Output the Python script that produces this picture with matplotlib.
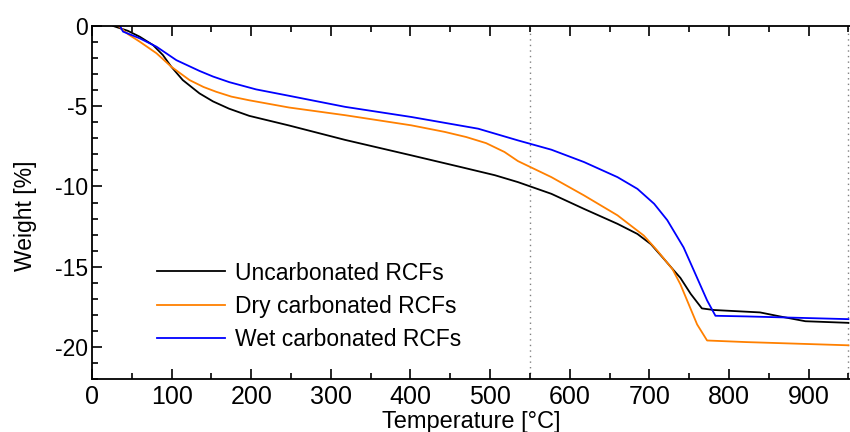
import numpy as np
import matplotlib
matplotlib.use("Agg")
import matplotlib.pyplot as plt

plt.rcParams['font.family'] = ['Liberation Sans', 'DejaVu Sans']
plt.rcParams['axes.unicode_minus'] = False

# values (temperature in degC, weight change in %)
temp_unc = [26.7, 45, 60, 76.7, 89, 99.6, 114, 135, 152, 172, 197.5, 247.5, 318, 401, 464, 506, 535,
            577, 618, 660, 685, 702, 718, 731, 739, 752, 766, 781, 839, 864, 896, 950]
weight_unc = [0, -0.3, -0.67, -1.19, -1.81, -2.54, -3.37, -4.2, -4.7, -5.15, -5.6, -6.2, -7.1, -8.06, -8.8, -9.3, -9.73,
              -10.46, -11.4, -12.33, -12.96, -13.6, -14.5, -15.25, -15.7, -16.7, -17.6, -17.7, -17.85, -18.1, -18.4, -18.5]

temp_dry = [33, 45, 60, 81, 99.6, 122.5, 140, 156, 175, 197.5, 247.5, 318, 401, 443, 470, 495, 518, 535, 577, 618,
            660, 693, 710, 729, 739, 760, 772.5, 822, 950]
weight_dry = [0, -0.5, -0.98, -1.7, -2.54, -3.37, -3.8, -4.1, -4.4, -4.63, -5.08, -5.56, -6.19, -6.6, -6.92, -7.3, -7.85,
              -8.42, -9.42, -10.56, -11.8, -13.06, -14.0, -15.15, -16.1, -18.6, -19.6, -19.7, -19.9]

temp_wet = [35, 39, 60, 81, 106, 135, 152, 172.5, 206, 247.5, 318, 401, 485, 535, 577, 618, 660, 685,
            706, 722.5, 743, 756, 772.5, 783, 822, 950]
weight_wet = [0, -0.35, -0.77, -1.29, -2.13, -2.8, -3.15, -3.5, -3.95, -4.35, -5.04, -5.67, -6.4, -7.13, -7.71, -8.48,
              -9.42, -10.15, -11.08, -12.1, -13.8, -15.25, -17.1, -18.06, -18.1, -18.27]

labels = ["Uncarbonated RCFs", "Dry carbonated RCFs", "Wet carbonated RCFs"]
colors = ["black", "#ff8000", "#0000ff"]
marks = [550, 950]

fig = plt.figure(figsize=(8.5, 4.32), dpi=100)
ax = fig.add_axes([92 / 850, 1 - 379 / 432, 1 - 92 / 850, (379 - 26) / 432])

for x in marks:
    ax.axvline(x, color="gray", ls=(0, (1, 3)), lw=1.0, zorder=1)

ax.plot(temp_unc, weight_unc, color=colors[0], lw=1.3, label=labels[0])
ax.plot(temp_dry, weight_dry, color=colors[1], lw=1.3, label=labels[1])
ax.plot(temp_wet, weight_wet, color=colors[2], lw=1.3, label=labels[2])

ax.set_xlim(0, 952)
ax.set_ylim(-22, 0)
ax.set_xticks(np.arange(0, 901, 100))
ax.set_xticks(np.arange(50, 951, 50), minor=True)
ax.set_yticks([-20, -15, -10, -5, 0])
ax.set_yticks(np.arange(-22, 0, 1), minor=True)
ax.tick_params(which="both", direction="in", top=True, right=False, width=1.2)
ax.tick_params(which="major", length=7)
ax.tick_params(which="minor", length=4)
ax.tick_params(axis="x", labelsize=18, pad=4)
ax.tick_params(axis="y", labelsize=16.5, pad=3)
ax.spines["right"].set_visible(False)
for s in ["left", "top", "bottom"]:
    ax.spines[s].set_linewidth(1.3)

ax.set_xlabel("Temperature [°C]", fontsize=17, labelpad=2)
ax.set_ylabel("Weight [%]", fontsize=16.5)
ax.yaxis.set_label_coords(-0.073, 0.462)

ax.legend(loc="upper left", bbox_to_anchor=(157 / 850, 1 - 261.5 / 432), bbox_transform=fig.transFigure,
          frameon=False, fontsize=16.5, handlelength=2.97, handletextpad=0.44, labelspacing=0.44,
          borderpad=0, borderaxespad=0)

fig.savefig("out.png", dpi=100)
